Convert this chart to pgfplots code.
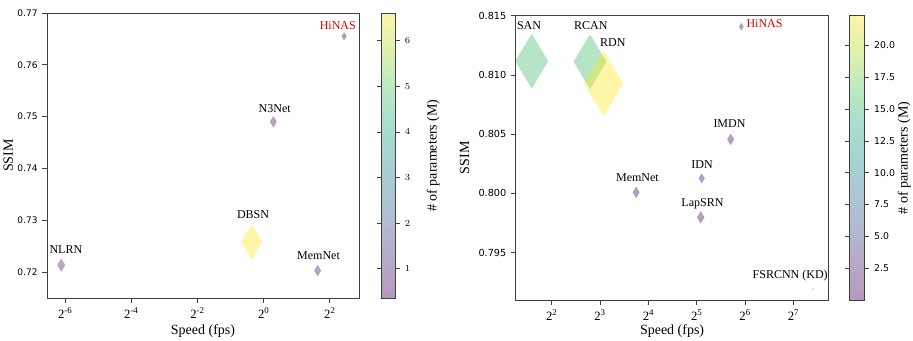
\documentclass[border=0pt]{standalone}
\usepackage{pgfplots}
\pgfplotsset{compat=1.18}
\usepackage{pgfplotstable}
\usepackage{fontspec}
\setmainfont{Liberation Serif}
\newfontfamily\dejavu{DejaVu Sans}
\pgfdeclareplotmark{thindiamond}{%
  \pgfpathmoveto{\pgfqpoint{0pt}{\pgfplotmarksize}}%
  \pgfpathlineto{\pgfqpoint{0.6\pgfplotmarksize}{0pt}}%
  \pgfpathlineto{\pgfqpoint{0pt}{-\pgfplotmarksize}}%
  \pgfpathlineto{\pgfqpoint{-0.6\pgfplotmarksize}{0pt}}%
  \pgfpathclose
  \pgfusepathqfill}
\pgfplotsset{
  colormap={vpale}{rgb255=(180,153,187) rgb255=(182,167,200) rgb255=(177,186,209) rgb255=(171,199,210) rgb255=(166,211,209) rgb255=(169,223,204) rgb255=(191,233,192) rgb255=(221,241,173) rgb255=(254,245,168)},
}
\pgfplotstableread{
x y p
0.01438 0.72135 0.93
0.779 0.7258 6.6
1.223 0.749 0.7
3.095 0.7203 0.71
5.39 0.7655 0.36
}\leftdata
\pgfplotstableread{
x y p
3.002 0.81117 15.7
6.92 0.81112 15.6
8.40 0.80929 22.3
13.41 0.80009 0.68
34.30 0.80127 0.55
33.83 0.79798 0.81
51.98 0.80456 0.7
60.55 0.81407 0.32
170.1 0.79191 0.012
}\rightdata
\newcommand{\pw}[1]{2\textsuperscript{#1}}
\newcommand{\lf}{\fontsize{9}{10}\selectfont}
\begin{document}
\begin{tikzpicture}
\path[use as bounding box] (0,0) rectangle (684.75pt,255pt);
\begin{axis}[
  scale only axis, clip=false,
  at={(35.25pt,31.5pt)}, anchor=south west,
  width=234pt, height=213.75pt,
  xmode=log, log basis x=2, xminorticks=false,
  tick pos=left, tick align=outside, major tick length=3.5pt,
  axis line style={black!75, line width=0.6pt},
  every tick/.style={black!75, line width=0.6pt},
  yticklabel style={font=\dejavu\fontsize{6.8}{8}\selectfont},
  xticklabel style={font=\fontsize{9.5}{10}\selectfont},
  xlabel={Speed (fps)}, ylabel={SSIM},
  every axis label/.append style={font=\fontsize{10.5}{12}\selectfont},
  ylabel style={yshift=-3.5pt},
  xlabel style={yshift=2pt},
  colormap/viridis,
  xmin=0.01067, xmax=7.36, ymin=0.715, ymax=0.77,
  xtick={0.015625,0.0625,0.25,1,4},
  xticklabels={\pw{-6},\pw{-4},\pw{-2},\pw{0},\pw{2}},
  ytick={0.72,0.73,0.74,0.75,0.76,0.77},
  yticklabels={0.72,0.73,0.74,0.75,0.76,0.77},
  point meta min=0.355, point meta max=6.61,
  colorbar,
  colorbar style={colormap name=vpale,
    at={(parent axis.north east)}, anchor=north west, xshift=8.25pt, width=10.5pt,
    axis line style={black!75, line width=0.6pt},
    major tick length=3.5pt, tick align=outside,
    yticklabel style={font=\dejavu\fontsize{7}{8}\selectfont},
    ylabel={\# of parameters (M)},
    every axis y label/.style={at={([xshift=28.3pt]rel axis cs:1,0.5)}, rotate=90, anchor=center, font=\fontsize{10.5}{12}\selectfont},
    ytick={1,2,3,4,5,6}},
]
\addplot[scatter, only marks, mark=thindiamond,
    point meta=\thisrow{p},
    visualization depends on={5.2*sqrt(\thisrow{p}) \as \msize},
    scatter/use mapped color={draw=none, fill=mapped color, fill opacity=0.4},
    scatter/@pre marker code/.append style={/tikz/mark size=\msize pt}]
  table[x=x,y=y]{\leftdata};
\node[font=\lf] at (axis cs:0.01584,0.72439) {NLRN};
\node[font=\lf] at (axis cs:0.7995,0.73115) {DBSN};
\node[font=\lf] at (axis cs:1.258,0.7515) {N3Net};
\node[font=\lf] at (axis cs:3.154,0.7231) {MemNet};
\node[font=\lf, text={rgb,255:red,220;green,0;blue,0}] at (axis cs:4.724,0.7676) {HiNAS};
\end{axis}
\begin{axis}[
  scale only axis, clip=false,
  at={(386.8pt,30pt)}, anchor=south west,
  width=234.5pt, height=213.2pt,
  xmode=log, log basis x=2, xminorticks=false,
  tick pos=left, tick align=outside, major tick length=3.5pt,
  axis line style={black!75, line width=0.6pt},
  every tick/.style={black!75, line width=0.6pt},
  yticklabel style={font=\dejavu\fontsize{7.3}{8}\selectfont},
  xticklabel style={font=\fontsize{9.5}{10}\selectfont},
  xlabel={Speed (fps)}, ylabel={SSIM},
  every axis label/.append style={font=\fontsize{10.5}{12}\selectfont},
  xlabel style={yshift=4pt},
  colormap/viridis,
  xmin=2.387, xmax=210.9, ymin=0.791, ymax=0.815,
  xtick={4,8,16,32,64,128},
  xticklabels={\pw{2},\pw{3},\pw{4},\pw{5},\pw{6},\pw{7}},
  ytick={0.795,0.8,0.805,0.81,0.815},
  yticklabels={0.795,0.800,0.805,0.810,0.815},
  point meta min=0.012, point meta max=22.33,
  colorbar,
  colorbar style={colormap name=vpale,
    at={(parent axis.north east)}, anchor=north west, xshift=7.5pt, width=11.25pt,
    axis line style={black!75, line width=0.6pt},
    major tick length=3.5pt, tick align=outside,
    yticklabel style={font=\dejavu\fontsize{7}{8}\selectfont},
    ylabel={\# of parameters (M)},
    every axis y label/.style={at={([xshift=29.5pt]rel axis cs:1,0.5)}, rotate=90, anchor=center, font=\fontsize{10.5}{12}\selectfont},
    ytick={2.5,5,7.5,10,12.5,15,17.5,20},
    yticklabels={2.5,5.0,7.5,10.0,12.5,15.0,17.5,20.0}},
]
\addplot[scatter, only marks, mark=thindiamond,
    point meta=\thisrow{p},
    visualization depends on={5.2*sqrt(\thisrow{p}) \as \msize},
    scatter/use mapped color={draw=none, fill=mapped color, fill opacity=0.4},
    scatter/@pre marker code/.append style={/tikz/mark size=\msize pt}]
  table[x=x,y=y]{\rightdata};
\node[font=\lf] at (axis cs:2.89,0.81416) {SAN};
\node[font=\lf] at (axis cs:7.00,0.81413) {RCAN};
\node[font=\lf] at (axis cs:9.59,0.81275) {RDN};
\node[font=\lf] at (axis cs:51.1,0.80591) {IMDN};
\node[font=\lf] at (axis cs:34.5,0.80240) {IDN};
\node[font=\lf] at (axis cs:13.66,0.80133) {MemNet};
\node[font=\lf] at (axis cs:34.7,0.79916) {LapSRN};
\node[font=\lf] at (axis cs:122.0,0.79309) {FSRCNN (KD)};
\node[font=\lf, text={rgb,255:red,220;green,0;blue,0}] at (axis cs:84.4,0.81435) {HiNAS};
\end{axis}
\end{tikzpicture}
\end{document}
